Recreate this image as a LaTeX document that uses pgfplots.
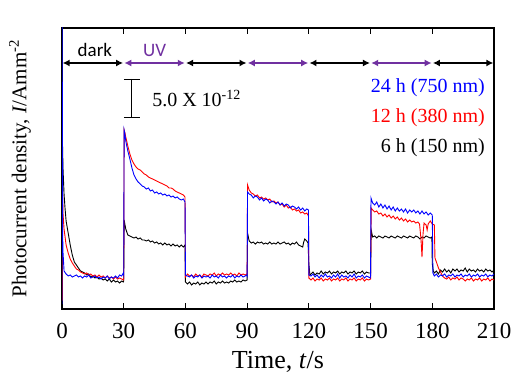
\documentclass[border=0pt]{standalone}
\usepackage{pgfplots}
\pgfplotsset{compat=1.18}
\usepackage{pgfplotstable}
\usepackage{fontspec}
\setmainfont{Liberation Serif}
\newfontfamily\calibri{Carlito}
\usetikzlibrary{arrows.meta}
\definecolor{uvpurple}{RGB}{112,48,160}

\pgfplotstableread{
t h
0 290
0.2 169
0.5 140
1 115
1.5 100
2 88
3 76
4 64
5 54
6 47
7 44
8 41
9 38
10 37
11 36
12 34
13 35
14 32
15 33
16 31
17 32
18 30
19 31
20 29
21 30
22 28
23 30
24 27
25 29
26 27
27 28
28 26
29 28
29.8 27
30 28
30.2 89
31 80
32 74
33 73
34 72
35 71
36 72
37 70
38 71
39 69
40 69
41 68
42 69
43 67
44 68
45 66
46 67
47 65
48 66
49 64
50 66
51 64
52 65
53 63
54 65
55 63
56 64
57 62
58 64
59 62
59.8 64
60 27
61 25
62 27
63 24
64 26
65 25
66 27
67 24
68 26
69 25
70 27
71 25
72 27
73 26
74 28
75 25
76 27
77 26
78 28
79 26
80 27
81 26
82 28
83 27
84 29
85 27
86 28
87 27
88 29
89 28
90 29
90.2 76
91 68
92 66
93 67
94 65
95 67
96 66
97 67
98 65
99 66
100 65
101 67
102 65
103 66
104 65
105 67
106 65
107 66
108 67
109 65
110 66
111 64
112 66
113 65
114 67
115 64
116 63
117 62
117.5 67
118 70
119 68
119.6 66
120 45
120.5 34
121 35
122 37
123 34
124 36
125 35
126 38
127 35
128 37
129 36
130 38
131 35
132 37
133 36
134 38
135 35
136 37
137 36
138 38
139 35
140 37
141 36
142 38
143 35
144 37
145 36
146 38
147 35
148 37
149 36
150 36
150.3 79
151 72
152 73
153 71
154 73
155 72
156 71
157 73
158 72
159 71
160 73
161 72
162 71
163 73
164 72
165 71
166 73
167 72
168 71
169 73
170 72
171 71
172 73
173 72
174 70
175 72
176 71
177 73
178 72
179 71
179.8 72
180 45
180.5 38
181 36
182 38
183 35
184 39
185 37
186 40
187 37
188 39
189 36
190 40
191 38
192 40
193 37
194 39
195 38
196 41
197 37
198 40
199 38
200 39
201 37
202 40
203 38
204 39
205 37
206 40
207 38
208 39
209 37
210 39
}\blackdata

\pgfplotstableread{
t h
0 8
0.05 10
0.1 160
0.2 120
0.5 95
1 80
2 64
3 56
4 50
5 46
6 43
7 40
8 39
9 37
10 36
11 35
12 36
13 34
14 35
15 33
16 34
17 32
18 34
19 32
20 33
21 31
22 33
23 31
24 32
25 30
26 32
27 30
28 31
29 30
29.8 29
30 30
30.2 179
30.5 177
31 172
32 163
33 155
34 149
35 145
36 142
37 140
38 139
39 137
40 135
41 134
42 132
43 131
44 130
45 129
46 128
47 127
48 126
49 125
50 124
51 123
52 121
53 121
54 120
55 118
56 117
57 116
58 115
59 114
59.8 112
60 32
61 35
62 33
63 34
64 32
65 35
66 33
67 34
68 32
69 35
70 34
71 33
72 35
73 34
74 36
75 33
76 35
77 34
78 36
79 34
80 35
81 34
82 36
83 34
84 35
85 33
86 36
87 34
88 35
89 34
90 35
90.2 124
91 119
92 116
93 115
94 113
95 114
96 111
97 112
98 110
99 111
100 109
101 110
102 107
103 108
104 106
105 107
106 104
107 105
108 102
109 104
110 101
111 102
112 99
113 100
114 98
115 99
116 96
117 97
118 95
119 96
119.8 93
120 31
121 29
122 31
123 28
124 30
125 29
126 31
127 28
128 30
129 29
130 31
131 28
132 30
133 29
134 31
135 28
136 30
137 29
138 31
139 28
140 30
141 29
142 31
143 28
144 30
145 29
146 31
147 28
148 30
149 29
150 30
150.3 101
151 99
152 97
153 98
154 95
155 96
156 93
157 95
158 92
159 94
160 91
161 93
162 90
163 92
164 89
165 91
166 88
167 90
168 87
169 89
170 87
171 88
172 86
173 87
173.8 85
174.5 70
175 52
175.5 75
176 86
177 84
177.5 79
178 85
179 88
180 85
181 84
181.3 51
182 47
183 41
184 37
185 33
186 31
187 30
188 32
189 29
190 31
191 30
192 32
193 29
194 31
195 30
196 28
197 30
198 29
199 31
200 28
201 30
202 29
203 31
204 28
205 30
206 29
207 31
208 28
209 30
210 29
}\reddata

\pgfplotstableread{
t h
0 5
0.05 290
0.4 60
1 38
2 35
3 33
4 34
5 32
6 33
7 34
8 32
9 33
10 31
11 33
12 32
13 34
14 31
15 32
16 33
17 31
18 32
19 30
20 32
21 31
22 33
23 30
24 32
25 31
26 33
27 31
28 34
29 33
29.8 36
30 34
30.2 179
30.5 176
31 168
32 158
33 150
34 141
35 134
36 130
37 127
38 125
39 123
40 122
41 120
42 121
43 118
44 119
45 116
46 117
47 115
48 116
49 114
50 115
51 113
52 114
53 112
54 113
55 111
56 112
57 110
58 109
59 110
59.8 107
60 34
61 33
62 32
63 34
64 31
65 33
66 32
67 34
68 31
69 33
70 32
71 33
72 31
73 34
74 32
75 33
76 31
77 34
78 32
79 33
80 31
81 33
82 32
83 34
84 31
85 33
86 32
87 34
88 32
89 33
89.8 34
90 33
90.2 117
91 115
92 114
93 111
94 113
95 112
96 109
97 111
98 108
99 110
100 109
101 106
102 108
103 107
104 105
105 107
106 104
107 106
108 103
109 105
110 104
111 101
112 103
113 102
114 100
115 102
116 99
117 101
118 98
119 100
119.8 99
120 34
121 33
122 35
123 32
124 34
125 31
126 34
127 32
128 35
129 32
130 33
131 31
132 34
133 32
134 35
135 31
136 34
137 32
138 33
139 31
140 34
141 32
142 35
143 31
144 33
145 32
146 34
147 31
148 33
149 32
149.8 31
150 33
150.2 111
151 106
152 104
153 107
154 102
155 105
156 101
157 104
158 100
159 103
160 99
161 102
162 98
163 101
164 98
165 100
166 97
167 100
168 96
169 99
170 97
171 99
172 96
173 98
174 95
175 98
176 95
177 97
178 94
179 96
180 94
180.3 36
181 33
182 35
183 32
184 34
185 33
186 35
187 32
188 34
189 33
190 35
191 32
192 34
193 33
194 35
195 32
196 34
197 33
198 35
199 32
200 34
201 33
202 35
203 32
204 34
205 33
206 35
207 32
208 34
209 33
210 35
}\bluedata

\begin{document}
\begin{tikzpicture}
\begin{axis}[
  at={(62bp,71bp)}, anchor=south west,
  scale only axis, width=432bp, height=281bp,
  xmin=0, xmax=210, ymin=0, ymax=281,
  xtick={0,30,60,90,120,150,180,210},
  xticklabels={0,30,60,90,120,150,180,210},
  ytick=\empty,
  tick align=inside, major tick length=6bp,
  axis line style={line width=1.1bp},
  tick style={line width=0.9bp, black},
  /pgf/number format/assume math mode=true,
  ticklabel style={font=\fontsize{23bp}{23bp}\selectfont},
  xticklabel style={anchor=base, yshift=-29bp},
  xlabel={Time, \textit{t}/s},
  xlabel style={font=\fontsize{26bp}{26bp}\selectfont, at={(axis description cs:0.5,-0.21)}, anchor=base},
  ylabel={Photocurrent density, \textit{I}/Amm\textsuperscript{-2}},
  ylabel style={font=\fontsize{21bp}{21bp}\selectfont, at={(axis description cs:-0.097,0.5)}, anchor=center},
  clip=true,
]
\addplot[black, line width=0.9bp] table[x=t,y=h] {\blackdata};
\addplot[red, line width=0.9bp] table[x=t,y=h] {\reddata};
\addplot[blue, line width=0.9bp] table[x=t,y=h] {\bluedata};

% period arrows
\foreach \a/\b/\c in {0/30/black,30/60/uvpurple,60/90/black,90/120/uvpurple,120/150/black,150/180/uvpurple,180/210/black}{
  \edef\tmp{\noexpand\draw[{Latex[length=7bp,width=7bp]}-{Latex[length=7bp,width=7bp]}, line width=1.6bp, \c] (axis cs:\a+0.3,246) -- (axis cs:\b-0.3,246);}
  \tmp
}
\node[anchor=base, font=\calibri\fontsize{19bp}{19bp}\selectfont] at (axis cs:16,252) {dark};
\node[anchor=base, font=\calibri\fontsize{19bp}{19bp}\selectfont, text=uvpurple] at (axis cs:45,252) {UV};

% scale bar
\draw[line width=0.9bp] (axis cs:30.1,230) -- (axis cs:37.9,230);
\draw[line width=0.9bp] (axis cs:34,230) -- (axis cs:34,192);
\draw[line width=0.9bp] (axis cs:30.1,192) -- (axis cs:37.9,192);
\node[anchor=base west, inner sep=0pt, font=\fontsize{20bp}{20bp}\selectfont] at (axis cs:43.8,202) {5.0 X 10\textsuperscript{-12}};

% legend text
\node[anchor=base east, inner sep=0pt, text=blue, font=\fontsize{20bp}{20bp}\selectfont] at (axis cs:205.6,216) {24 h (750 nm)};
\node[anchor=base east, inner sep=0pt, text=red, font=\fontsize{20bp}{20bp}\selectfont] at (axis cs:205.6,186) {12 h (380 nm)};
\node[anchor=base east, inner sep=0pt, text=black, font=\fontsize{20bp}{20bp}\selectfont] at (axis cs:205.6,156) {6 h (150 nm)};
\end{axis}
\pgfresetboundingbox
\useasboundingbox (0,0) rectangle (520bp,380bp);
\end{tikzpicture}
\end{document}
